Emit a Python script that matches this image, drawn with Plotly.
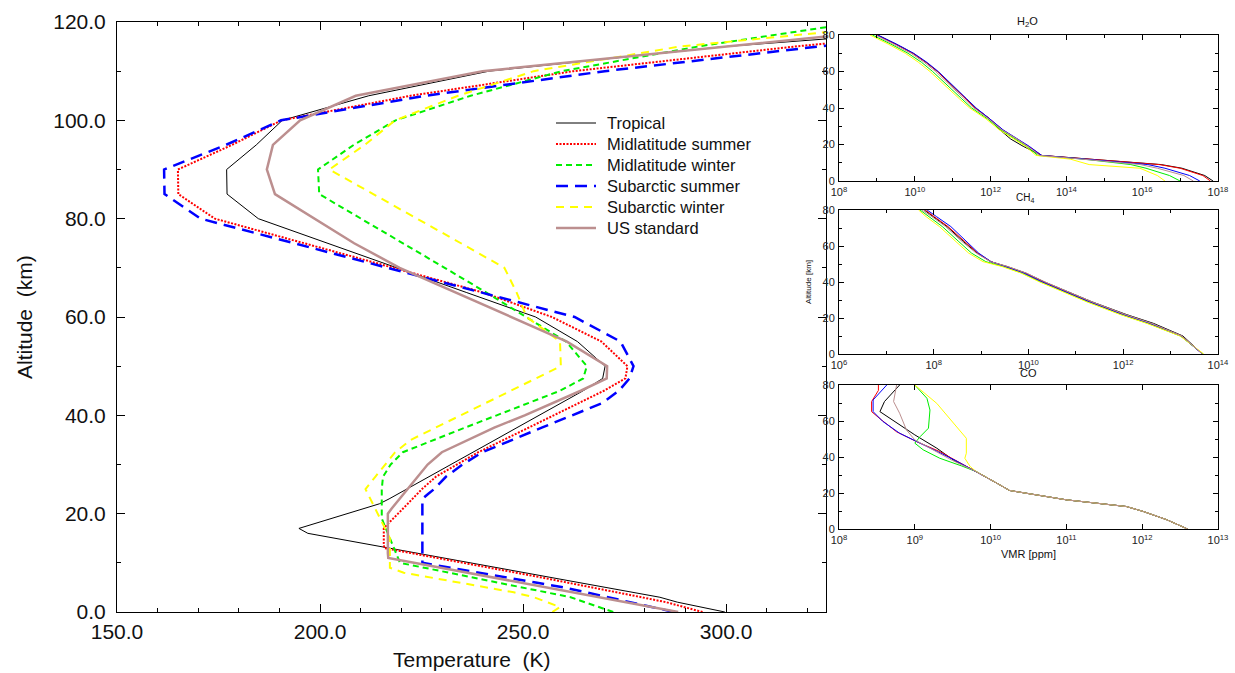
import numpy as np
import plotly.graph_objects as go

# ---------------- main panel data (temperature profiles) ----------------
ALT = [0, 1, 2, 3, 4, 5, 6, 7, 8, 9, 10, 11, 12, 13, 14, 15, 16, 17, 18, 19,
       20, 21, 22, 23, 24, 25, 27.5, 30, 32.5, 35, 37.5, 40, 42.5, 45, 47.5, 50,
       55, 60, 65, 70, 75, 80, 85, 90, 95, 100, 105, 110, 115, 120]

T_TROPICAL = [299.7, 293.7, 288.0, 283.7, 277.0, 270.3, 263.6, 257.0, 250.3, 243.6,
              237.0, 230.1, 223.6, 217.0, 210.3, 203.7, 197.0, 194.8, 198.8, 202.7,
              206.7, 210.7, 214.6, 217.0, 219.2, 221.4,
              227.0, 232.3, 237.7, 243.1, 248.5, 254.0, 259.4, 264.8, 269.6, 270.2,
              263.4, 253.1, 236.0, 218.9, 201.8, 184.8, 177.1, 177.0, 184.3, 190.7,
              212.0, 241.6, 299.7, 380.0]
T_MLS = [294.2, 289.7, 285.2, 279.2, 273.2, 267.2, 261.2, 254.7, 248.2, 241.7,
         235.3, 228.8, 222.3, 215.8, 215.7, 215.7, 215.7, 215.7, 216.8, 217.9,
         219.2, 220.4, 221.6, 222.8, 223.9, 225.1,
         228.5, 233.7, 239.0, 245.2, 251.3, 257.5, 263.7, 269.9, 275.2, 275.7,
         269.3, 257.1, 240.1, 218.1, 196.1, 174.1, 165.1, 165.0, 178.3, 190.5,
         222.3, 262.4, 316.8, 380.0]
T_MLW = [272.2, 268.7, 265.2, 261.7, 255.7, 249.7, 243.7, 237.7, 231.7, 225.7,
         219.7, 219.2, 218.7, 218.2, 217.7, 217.2, 216.7, 216.2, 215.7, 215.2,
         215.2, 215.2, 215.2, 215.2, 215.2, 215.2,
         215.5, 217.4, 220.4, 227.9, 235.7, 243.5, 251.3, 259.1, 264.8, 265.7,
         260.6, 250.8, 240.9, 230.7, 220.4, 210.1, 199.8, 199.5, 208.3, 218.6,
         237.1, 259.5, 293.0, 333.0]
T_SAS = [287.2, 281.7, 276.3, 270.9, 265.5, 260.1, 253.1, 246.1, 239.2, 232.2,
         225.2, 225.2, 225.2, 225.2, 225.2, 225.2, 225.2, 225.2, 225.2, 225.2,
         225.2, 225.2, 225.2, 225.2, 226.6, 228.1,
         231.0, 235.1, 240.0, 247.2, 254.6, 262.1, 269.5, 273.6, 276.2, 277.2,
         274.0, 262.7, 239.7, 216.6, 193.6, 170.6, 161.7, 161.6, 176.8, 190.4,
         226.0, 270.1, 322.7, 380.0]
T_SAW = [257.2, 259.1, 255.9, 252.7, 247.7, 240.9, 234.1, 227.3, 220.6, 217.2,
         217.2, 217.2, 217.2, 217.2, 217.2, 217.2, 216.6, 216.0, 215.4, 214.8,
         214.2, 213.6, 213.0, 212.4, 211.8, 211.2,
         213.6, 216.0, 218.5, 222.3, 228.5, 234.7, 240.8, 247.0, 253.2, 259.3,
         259.1, 250.9, 248.4, 245.4, 234.7, 223.9, 213.1, 202.3, 211.0, 218.5,
         234.0, 252.6, 288.5, 350.0]
T_US = [288.2, 281.7, 275.2, 268.7, 262.2, 255.7, 249.2, 242.7, 236.2, 229.7,
        223.3, 216.8, 216.7, 216.7, 216.7, 216.7, 216.7, 216.7, 216.7, 216.7,
        216.7, 217.6, 218.6, 219.6, 220.6, 221.6,
        224.0, 226.5, 230.0, 236.5, 242.9, 250.4, 257.3, 264.2, 270.6, 270.7,
        260.8, 247.0, 233.3, 219.6, 208.4, 198.6, 188.9, 186.9, 188.4, 195.1,
        208.8, 240.0, 300.0, 360.0]

NAMES = ["Tropical", "Midlatitude summer", "Midlatitude winter",
         "Subarctic summer", "Subarctic winter", "US standard"]

X_TICKS = [150, 200, 250, 300]
Y_TICKS = [0, 20, 40, 60, 80, 100, 120]

# ---------------- small panels (log10 of the plotted quantity) ----------------
H2O_ALT = [0, 3, 7, 9, 12, 14, 19, 23, 28, 34, 40, 45, 50, 55, 60, 65, 70, 75, 80]
H2O_TROP = [17.87, 17.65, 17.05, 16.5, 14.6, 13.35, 12.86, 12.53, 12.25, 11.98, 11.6, 11.35, 11.1, 10.85, 10.6, 10.3, 9.95, 9.5, 9.02]
H2O_MLS = [17.8, 17.6, 17.0, 16.45, 14.6, 13.35, 13.0, 12.7, 12.32, 11.98, 11.6, 11.35, 11.1, 10.85, 10.6, 10.3, 9.95, 9.5, 9.0]
H2O_MLW = [17.0, 16.72, 16.1, 15.7, 14.45, 13.25, 12.95, 12.66, 12.27, 11.92, 11.5, 11.24, 10.98, 10.72, 10.47, 10.18, 9.82, 9.37, 8.88]
H2O_SAS = [17.52, 17.25, 16.6, 16.15, 14.5, 13.35, 13.02, 12.72, 12.33, 11.98, 11.62, 11.37, 11.12, 10.87, 10.62, 10.32, 9.97, 9.52, 9.02]
H2O_SAW = [16.6, 16.4, 15.94, 14.6, 14.1, 13.2, 12.92, 12.62, 12.23, 11.88, 11.45, 11.18, 10.92, 10.65, 10.4, 10.1, 9.75, 9.3, 8.82]
H2O_US = [17.35, 17.1, 16.4, 15.95, 14.4, 13.3, 12.98, 12.7, 12.3, 11.95, 11.56, 11.3, 11.05, 10.8, 10.55, 10.25, 9.9, 9.45, 8.96]

CH4_ALT = [0, 10, 17, 22, 29, 40, 45, 48.6, 51.3, 56, 62.4, 70.8, 76.3, 80]
CH4_TROP = [13.67, 13.26, 12.64, 12.06, 11.34, 10.34, 9.94, 9.55, 9.2, 8.92, 8.63, 8.28, 7.99, 7.8]
CH4_MLS = [13.67, 13.23, 12.56, 11.99, 11.29, 10.31, 9.92, 9.54, 9.21, 8.93, 8.65, 8.3, 8.01, 7.82]
CH4_MLW = [13.68, 13.21, 12.52, 11.95, 11.25, 10.26, 9.86, 9.47, 9.1, 8.8, 8.53, 8.18, 7.9, 7.71]
CH4_SAS = [13.67, 13.22, 12.55, 11.98, 11.28, 10.29, 9.9, 9.52, 9.21, 8.95, 8.69, 8.36, 8.06, 7.86]
CH4_SAW = [13.7, 13.2, 12.5, 11.93, 11.23, 10.24, 9.84, 9.44, 9.04, 8.74, 8.47, 8.12, 7.84, 7.68]
CH4_US = [13.67, 13.24, 12.6, 12.04, 11.34, 10.35, 9.95, 9.56, 9.2, 8.9, 8.6, 8.25, 7.96, 7.75]

CO_LOW_ALT = [0, 5.2, 9.8, 12.5, 16.2, 21.4, 25.5, 31.9]
CO_LOW = [12.6, 12.32, 12.01, 11.79, 11.0, 10.25, 10.08, 9.81]
CO_TROP_ALT = [38, 44.9, 52.3, 65.2, 70.8, 80]
CO_TROP = [9.52, 9.29, 9.0, 8.54, 8.6, 8.8]
CO_MLS_ALT = [38, 43, 48.6, 54, 60.6, 65.2, 70.8, 77, 80]
CO_MLS = [9.55, 9.33, 9.02, 8.76, 8.56, 8.43, 8.43, 8.52, 8.52]
CO_MLW_ALT = [35, 39.3, 44, 47.7, 51.3, 56, 66.1, 72.6, 80]
CO_MLW = [9.62, 9.33, 9.11, 9.0, 9.07, 9.18, 9.2, 9.16, 9.0]
CO_SAS_ALT = [38, 43, 48.6, 53.2, 59.7, 65.2, 71.7, 80]
CO_SAS = [9.54, 9.3, 9.02, 8.8, 8.58, 8.45, 8.45, 8.63]
CO_SAW_ALT = [34.7, 39.3, 42.1, 50.4, 69.8, 80]
CO_SAW = [9.73, 9.66, 9.68, 9.68, 9.29, 9.0]
CO_US_ALT = [38, 44.9, 49.5, 55, 64.3, 70.8, 80]
CO_US = [9.5, 9.2, 9.0, 8.89, 8.8, 8.72, 8.76]

# ---------------- styles ----------------
W, H = 1235, 673
FONT = "Liberation Sans, Arial, Helvetica, sans-serif"
COLORS = ["#000000", "#ff0000", "#00ee00", "#0000ff", "#ffff00", "#bc8f8f"]
MAIN_STYLE = [
    dict(width=1, dash="solid"),
    dict(width=2, dash="2px,1.5px"),
    dict(width=2, dash="6px,4px"),
    dict(width=2.5, dash="12px,7px"),
    dict(width=2, dash="8px,6px"),
    dict(width=2.5, dash="solid"),
]


def fx(p):
    return p / W


def fy(p):
    return 1 - p / H


fig = go.Figure()

main_T = [T_TROPICAL, T_MLS, T_MLW, T_SAS, T_SAW, T_US]
for name, t, c, s in zip(NAMES, main_T, COLORS, MAIN_STYLE):
    fig.add_trace(go.Scatter(x=t, y=ALT, mode="lines", name=name, showlegend=False,
                             line=dict(color=c, width=s["width"], dash=s["dash"]),
                             xaxis="x", yaxis="y"))

h2o = [H2O_TROP, H2O_MLS, H2O_MLW, H2O_SAS, H2O_SAW, H2O_US]
ch4 = [CH4_TROP, CH4_MLS, CH4_MLW, CH4_SAS, CH4_SAW, CH4_US]
co_up_alt = [CO_TROP_ALT, CO_MLS_ALT, CO_MLW_ALT, CO_SAS_ALT, CO_SAW_ALT, CO_US_ALT]
co_up = [CO_TROP, CO_MLS, CO_MLW, CO_SAS, CO_SAW, CO_US]
for i in range(6):
    c = COLORS[i]
    fig.add_trace(go.Scatter(x=np.power(10.0, h2o[i]), y=H2O_ALT, mode="lines",
                             line=dict(color=c, width=1), showlegend=False,
                             xaxis="x2", yaxis="y2"))
    fig.add_trace(go.Scatter(x=np.power(10.0, ch4[i]), y=CH4_ALT, mode="lines",
                             line=dict(color=c, width=1), showlegend=False,
                             xaxis="x3", yaxis="y3"))
    fig.add_trace(go.Scatter(x=np.power(10.0, CO_LOW + co_up[i]),
                             y=CO_LOW_ALT + co_up_alt[i], mode="lines",
                             line=dict(color=c, width=1), showlegend=False,
                             xaxis="x4", yaxis="y4"))

common = dict(showline=True, linecolor="#000", linewidth=1, mirror="ticks",
              ticks="inside", tickcolor="#000", tickwidth=1, showgrid=False,
              zeroline=False, automargin=False)

main_font = dict(family=FONT, size=21, color="#111")
small_font = dict(family=FONT, size=11, color="#222")


def log_axis(lo, hi, step, domain, anchor):
    major = list(range(lo, hi + 1, step))
    minor = [d for d in range(lo, hi + 1) if d not in major]
    return dict(type="log", range=[lo, hi], domain=domain, anchor=anchor,
                tickmode="array", tickvals=[10.0 ** d for d in major],
                ticktext=[f"10<sup>{d}</sup>" for d in major],
                ticklen=5, tickfont=small_font, ticklabelstandoff=1,
                minor=dict(tickmode="array", tickvals=[10.0 ** d for d in minor],
                           ticks="inside", ticklen=3, tickcolor="#000", showgrid=False),
                **common)


def alt_axis(domain, anchor):
    return dict(range=[0, 80], domain=domain, anchor=anchor, tickmode="array",
                tickvals=[0, 20, 40, 60, 80], ticktext=["0", "20", "40", "60", "80"],
                ticklen=5, tickfont=small_font, ticklabelstandoff=1,
                minor=dict(dtick=10, tick0=0, ticks="inside", ticklen=3,
                           tickcolor="#000", showgrid=False),
                **common)


px_dom = [fx(839), fx(1218)]
fig.update_layout(
    template="none",
    width=W, height=H, autosize=False,
    margin=dict(l=0, r=0, t=0, b=0, pad=0),
    paper_bgcolor="white", plot_bgcolor="white",
    font=dict(family=FONT, color="#111"),
    showlegend=False,
    hovermode=False,
    xaxis=dict(domain=[fx(117), fx(826)], range=[150, 324.6], anchor="y",
               tickmode="array", tickvals=X_TICKS,
               ticktext=[f"{v:.1f}" for v in X_TICKS],
               ticklen=8, tickfont=main_font, ticklabelstandoff=1,
               minor=dict(dtick=10, tick0=150, ticks="inside", ticklen=4,
                          tickcolor="#000", showgrid=False),
               **common),
    yaxis=dict(domain=[fy(612), fy(22)], range=[0, 120], anchor="x",
               tickmode="array", tickvals=Y_TICKS,
               ticktext=[f"{v:.1f}" for v in Y_TICKS],
               ticklen=8, tickfont=main_font, ticklabelstandoff=6,
               minor=dict(dtick=10, tick0=0, ticks="inside", ticklen=4,
                          tickcolor="#000", showgrid=False),
               **common),
    xaxis2=log_axis(8, 18, 2, px_dom, "y2"),
    yaxis2=alt_axis([fy(181), fy(35)], "x2"),
    xaxis3=log_axis(6, 14, 2, px_dom, "y3"),
    yaxis3=alt_axis([fy(354), fy(210)], "x3"),
    xaxis4=log_axis(8, 13, 1, px_dom, "y4"),
    yaxis4=alt_axis([fy(529), fy(385)], "x4"),
)

# legend: sample lines and labels, one row per atmosphere
LEG_TOP, LEG_STEP = 123, 21
for k, (name, c, s) in enumerate(zip(NAMES, COLORS, MAIN_STYLE)):
    yy = fy(LEG_TOP + k * LEG_STEP)
    fig.add_shape(type="line", xref="paper", yref="paper",
                  x0=fx(556), x1=fx(596), y0=yy, y1=yy,
                  line=dict(color=c, width=s["width"], dash=s["dash"]))
    fig.add_annotation(text=name, x=fx(605), y=yy, xref="paper", yref="paper",
                       xanchor="left", yanchor="middle", showarrow=False,
                       font=dict(family=FONT, size=16.5, color="#111"))


def note(text, x, y, size, angle=0):
    fig.add_annotation(text=text, x=fx(x), y=fy(y), xref="paper", yref="paper",
                       xanchor="center", yanchor="middle", showarrow=False,
                       textangle=angle, font=dict(family=FONT, size=size, color="#111"))


note("Altitude\u00a0\u00a0(km)", 24, 317, 21, -90)
note("Temperature\u00a0\u00a0(K)", 472, 659, 21)
note("H<sub>2</sub>O", 1027, 22, 11)
note("CH<sub>4</sub>", 1025, 198, 10)
note("CO", 1028, 373, 11)
note("VMR [ppm]", 1028, 554, 11)
note("Altitude [km]", 808, 282, 8, -90)

fig.write_html("out.html",
               config={"displayModeBar": False, "staticPlot": True},
               post_script="document.body.style.margin='0px';"
                           "document.body.style.overflow='hidden';")
